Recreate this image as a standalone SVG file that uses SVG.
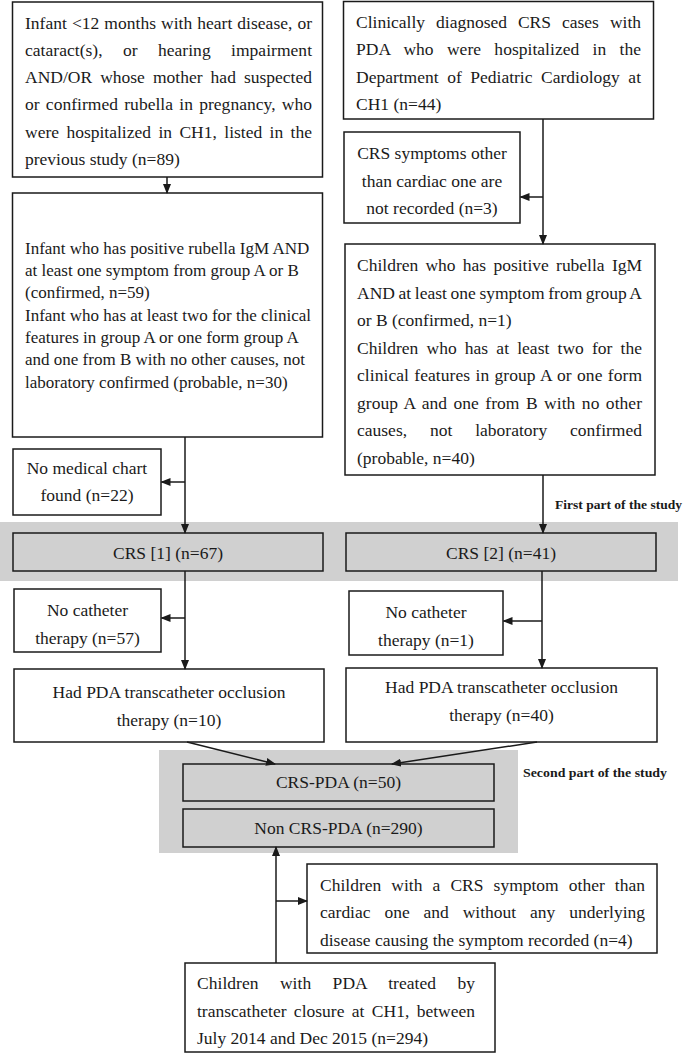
<svg xmlns="http://www.w3.org/2000/svg" width="685" height="1054" viewBox="0 0 685 1054">
<style>
.box{fill:#fff;stroke:#1a1a1a;stroke-width:1.5}
.gbox{fill:#d0d0d0;stroke:#1a1a1a;stroke-width:1.5}
.band{fill:#d0d0d0;stroke:none}
text{font-family:'Liberation Serif','DejaVu Serif','Noto Serif',serif;font-size:17.5px;fill:#1a1a1a}
.c{text-anchor:middle}
.n{font-size:17px}
.b{font-weight:bold;font-size:13px}
.ln{stroke:#1a1a1a;stroke-width:1.5;fill:none;marker-end:url(#ah)}
</style>
<defs>
<marker id="ah" markerUnits="userSpaceOnUse" markerWidth="10" markerHeight="8" refX="9" refY="4" orient="auto">
<path d="M0,0 L10,4 L0,8 z" fill="#1a1a1a"/>
</marker>
</defs>
<g font-family="Liberation Serif, DejaVu Serif, serif">
<rect class="band" x="0" y="522" width="678" height="59"/>
<rect class="band" x="159" y="750" width="359" height="103"/>
<g id="box1">
<rect class="box" x="12.5" y="2" width="310" height="175"/>
<text x="25" y="29" word-spacing="0.6" textLength="287" lengthAdjust="spacing">Infant &lt;12 months with heart disease, or</text>
<text x="25" y="56" word-spacing="16" textLength="287" lengthAdjust="spacing">cataract(s), or hearing impairment</text>
<text x="25" y="83" word-spacing="3.7" textLength="287" lengthAdjust="spacing">AND/OR whose mother had suspected</text>
<text x="25" y="110" word-spacing="1.8" textLength="287" lengthAdjust="spacing">or confirmed rubella in pregnancy, who</text>
<text x="25" y="138" word-spacing="3" textLength="287" lengthAdjust="spacing">were hospitalized in CH1, listed in the</text>
<text x="25" y="165">previous study (n=89)</text>
</g>
<g id="box2">
<rect class="box" x="12.5" y="193" width="310" height="244"/>
<text class="n" x="25" y="254">Infant who has positive rubella IgM AND</text>
<text class="n" x="25" y="276">at least one symptom from group A or B</text>
<text class="n" x="25" y="298">(confirmed, n=59)</text>
<text class="n" x="25" y="321">Infant who has at least two for the clinical</text>
<text class="n" x="25" y="343">features in group A or one form group A</text>
<text class="n" x="25" y="365">and one from B with no other causes, not</text>
<text class="n" x="25" y="388">laboratory confirmed (probable, n=30)</text>
</g>
<g id="box3">
<rect class="box" x="343.5" y="1.5" width="310" height="117.5"/>
<text x="356" y="28" word-spacing="6.6" textLength="285" lengthAdjust="spacing">Clinically diagnosed CRS cases with</text>
<text x="356" y="55" word-spacing="8.9" textLength="285" lengthAdjust="spacing">PDA who were hospitalized in the</text>
<text x="356" y="83" word-spacing="4.2" textLength="285" lengthAdjust="spacing">Department of Pediatric Cardiology at</text>
<text x="356" y="110">CH1 (n=44)</text>
</g>
<g id="box4">
<rect class="box" x="344" y="132" width="176" height="91"/>
<text class="c" x="432" y="159">CRS symptoms other</text>
<text class="c" x="432" y="187">than cardiac one are</text>
<text class="c" x="432" y="214">not recorded (n=3)</text>
</g>
<g id="box5">
<rect class="box" x="345" y="244" width="310" height="231"/>
<text x="357" y="271" word-spacing="2.9" textLength="285" lengthAdjust="spacing">Children who has positive rubella IgM</text>
<text x="357" y="298.5" word-spacing="-0.8" textLength="285" lengthAdjust="spacing">AND at least one symptom from group A</text>
<text x="357" y="326">or B (confirmed, n=1)</text>
<text x="357" y="353.5" word-spacing="3.8" textLength="285" lengthAdjust="spacing">Children who has at least two for the</text>
<text x="357" y="381" word-spacing="0.9" textLength="285" lengthAdjust="spacing">clinical features in group A or one form</text>
<text x="357" y="408.5" word-spacing="2" textLength="285" lengthAdjust="spacing">group A and one from B with no other</text>
<text x="357" y="436" word-spacing="18.5" textLength="285" lengthAdjust="spacing">causes, not laboratory confirmed</text>
<text x="357" y="463.5">(probable, n=40)</text>
</g>
<g id="nochart">
<rect class="box" x="13" y="449" width="148" height="66"/>
<text class="c" x="87" y="474">No medical chart</text>
<text class="c" x="87" y="501">found (n=22)</text>
</g>
<g id="crs1">
<rect class="gbox" x="13" y="533" width="310" height="38"/>
<text class="c" x="168" y="559">CRS [1] (n=67)</text>
</g>
<g id="crs2">
<rect class="gbox" x="346" y="533" width="310" height="38"/>
<text class="c" x="501" y="559">CRS [2] (n=41)</text>
</g>
<g id="nocath1">
<rect class="box" x="14" y="589" width="147" height="63"/>
<text class="c" x="87.5" y="616">No catheter</text>
<text class="c" x="87.5" y="644">therapy (n=57)</text>
</g>
<g id="nocath2">
<rect class="box" x="349" y="591" width="154" height="64"/>
<text class="c" x="426" y="618">No catheter</text>
<text class="c" x="426" y="646">therapy (n=1)</text>
</g>
<g id="pda1">
<rect class="box" x="14" y="669" width="310" height="73"/>
<text class="c" x="169" y="698">Had PDA transcatheter occlusion</text>
<text class="c" x="169" y="726">therapy (n=10)</text>
</g>
<g id="pda2">
<rect class="box" x="346" y="668" width="311" height="74"/>
<text class="c" x="501.5" y="693">Had PDA transcatheter occlusion</text>
<text class="c" x="501.5" y="721">therapy (n=40)</text>
</g>
<g id="crspda">
<rect class="gbox" x="183" y="764" width="311" height="37"/>
<text class="c" x="338.5" y="788">CRS-PDA (n=50)</text>
</g>
<g id="noncrspda">
<rect class="gbox" x="183" y="809" width="311" height="38"/>
<text class="c" x="338.5" y="834">Non CRS-PDA (n=290)</text>
</g>
<g id="excluded">
<rect class="box" x="307" y="864" width="350" height="89"/>
<text x="320" y="891" word-spacing="5.7" textLength="325" lengthAdjust="spacing">Children with a CRS symptom other than</text>
<text x="320" y="918" word-spacing="9.5" textLength="325" lengthAdjust="spacing">cardiac one and without any underlying</text>
<text x="320" y="946">disease causing the symptom recorded (n=4)</text>
</g>
<g id="allpda">
<rect class="box" x="185" y="963" width="310" height="89"/>
<text x="197" y="989" word-spacing="17" textLength="278" lengthAdjust="spacing">Children with PDA treated by</text>
<text x="197" y="1017" word-spacing="3" textLength="278" lengthAdjust="spacing">transcatheter closure at CH1, between</text>
<text x="197" y="1044">July 2014 and Dec 2015 (n=294)</text>
</g>
<g id="labels">
<text class="b" x="555" y="509" textLength="127" lengthAdjust="spacingAndGlyphs">First part of the study</text>
<text class="b" x="523" y="777" textLength="144" lengthAdjust="spacingAndGlyphs">Second part of the study</text>
</g>
<g id="connectors">
<line class="ln" x1="167" y1="177" x2="167" y2="193"/>
<line class="ln" x1="543" y1="119" x2="543" y2="244"/>
<line class="ln" x1="543" y1="197" x2="520.5" y2="197"/>
<line class="ln" x1="185" y1="437" x2="185" y2="533"/>
<line class="ln" x1="185" y1="482" x2="161.5" y2="482"/>
<line class="ln" x1="543" y1="475" x2="543" y2="533"/>
<line class="ln" x1="185" y1="571" x2="185" y2="669"/>
<line class="ln" x1="185" y1="618" x2="161.5" y2="618"/>
<line class="ln" x1="542" y1="571" x2="542" y2="668"/>
<line class="ln" x1="542" y1="621" x2="503.5" y2="621"/>
<line class="ln" x1="187" y1="742" x2="275" y2="764"/>
<line class="ln" x1="537" y1="742" x2="392" y2="764"/>
<line class="ln" x1="276" y1="963" x2="276" y2="847"/>
<line class="ln" x1="276" y1="901" x2="307" y2="901"/>
</g>
</g>
</svg>
